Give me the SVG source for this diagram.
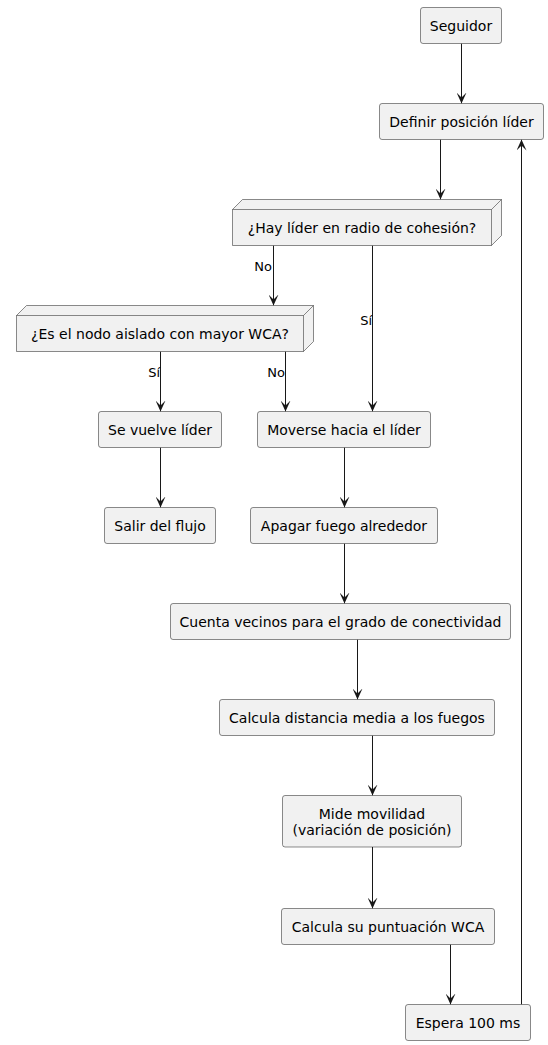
<svg xmlns="http://www.w3.org/2000/svg" width="548" height="1045" viewBox="0 0 548 1045">
<style>
.box{fill:#F1F1F1;stroke:#181818;stroke-width:0.5}
.t{font-family:"DejaVu Sans",Verdana,sans-serif;font-size:14px;fill:#000;text-anchor:middle}
.lbl{font-family:"DejaVu Sans",Verdana,sans-serif;font-size:13px;fill:#000;text-anchor:end}
.ln{stroke:#181818;stroke-width:1;fill:none}
</style>
<defs>
<marker id="ah" viewBox="0 0 11 10" refX="11" refY="5" markerWidth="11" markerHeight="10" markerUnits="userSpaceOnUse" orient="auto">
<path d="M0,0 L11,5 L0,10 L5,5 Z" fill="#181818"/>
</marker>
</defs>
<rect width="548" height="1045" fill="#FFFFFF"/>
<g id="connectors">
<line class="ln" x1="461.5" y1="43.5" x2="461.5" y2="103.5" marker-end="url(#ah)"/>
<line class="ln" x1="440.5" y1="139.5" x2="440.5" y2="199.5" marker-end="url(#ah)"/>
<line class="ln" x1="273.5" y1="245.5" x2="273.5" y2="305.5" marker-end="url(#ah)"/>
<text class="lbl" x="272" y="271">No</text>
<line class="ln" x1="372.5" y1="245.5" x2="372.5" y2="411.5" marker-end="url(#ah)"/>
<text class="lbl" x="372" y="325">Sí</text>
<line class="ln" x1="160.5" y1="351.5" x2="160.5" y2="411.5" marker-end="url(#ah)"/>
<text class="lbl" x="160" y="377">Sí</text>
<line class="ln" x1="285.5" y1="351.5" x2="285.5" y2="411.5" marker-end="url(#ah)"/>
<text class="lbl" x="285" y="377">No</text>
<line class="ln" x1="160.5" y1="447.5" x2="160.5" y2="507.5" marker-end="url(#ah)"/>
<line class="ln" x1="344.5" y1="447.5" x2="344.5" y2="507.5" marker-end="url(#ah)"/>
<line class="ln" x1="344.5" y1="543.5" x2="344.5" y2="603.5" marker-end="url(#ah)"/>
<line class="ln" x1="357.5" y1="639.5" x2="357.5" y2="699.5" marker-end="url(#ah)"/>
<line class="ln" x1="372.5" y1="735.5" x2="372.5" y2="795.5" marker-end="url(#ah)"/>
<line class="ln" x1="372.5" y1="847" x2="372.5" y2="908.5" marker-end="url(#ah)"/>
<line class="ln" x1="450.5" y1="944.5" x2="450.5" y2="1004.5" marker-end="url(#ah)"/>
<line class="ln" x1="521.5" y1="1004.5" x2="521.5" y2="139.5" marker-end="url(#ah)"/>
</g>
<g id="seguidor"><rect class="box" x="420.5" y="7.5" width="81" height="36" rx="2.5"/><text class="t" x="461" y="30.5">Seguidor</text></g>
<g id="definir"><rect class="box" x="379.5" y="103.5" width="164" height="36" rx="2.5"/><text class="t" x="461.5" y="126.5">Definir posición líder</text></g>
<g id="hay-lider">
<polygon class="box" points="232.5,209.5 242.5,199.5 501.5,199.5 501.5,235.5 491.5,245.5 232.5,245.5"/>
<polyline class="box" points="232.5,209.5 491.5,209.5 501.5,199.5" style="fill:none"/>
<line class="box" x1="491.5" y1="209.5" x2="491.5" y2="245.5"/>
<text class="t" x="362" y="232.5">¿Hay líder en radio de cohesión?</text>
</g>
<g id="es-aislado">
<polygon class="box" points="16.5,315.5 26.5,305.5 313.5,305.5 313.5,341.5 303.5,351.5 16.5,351.5"/>
<polyline class="box" points="16.5,315.5 303.5,315.5 313.5,305.5" style="fill:none"/>
<line class="box" x1="303.5" y1="315.5" x2="303.5" y2="351.5"/>
<text class="t" x="160" y="338.5">¿Es el nodo aislado con mayor WCA?</text>
</g>
<g id="se-vuelve"><rect class="box" x="98.5" y="411.5" width="123" height="36" rx="2.5"/><text class="t" x="160" y="434.5">Se vuelve líder</text></g>
<g id="salir"><rect class="box" x="104.5" y="507.5" width="111" height="36" rx="2.5"/><text class="t" x="160" y="530.5">Salir del flujo</text></g>
<g id="moverse"><rect class="box" x="257.5" y="411.5" width="173" height="36" rx="2.5"/><text class="t" x="344" y="434.5">Moverse hacia el líder</text></g>
<g id="apagar"><rect class="box" x="250.5" y="507.5" width="187" height="36" rx="2.5"/><text class="t" x="344" y="530.5">Apagar fuego alrededor</text></g>
<g id="cuenta"><rect class="box" x="170.5" y="603.5" width="340" height="36" rx="2.5"/><text class="t" x="340.5" y="626.5">Cuenta vecinos para el grado de conectividad</text></g>
<g id="distancia"><rect class="box" x="219.5" y="699.5" width="275" height="36" rx="2.5"/><text class="t" x="357" y="722.5">Calcula distancia media a los fuegos</text></g>
<g id="mide"><rect class="box" x="282.5" y="795.5" width="179" height="51.5" rx="2.5"/><text class="t" x="372" y="818.5">Mide movilidad</text><text class="t" x="372" y="834.5">(variación de posición)</text></g>
<g id="puntuacion"><rect class="box" x="281.5" y="908.5" width="213" height="36" rx="2.5"/><text class="t" x="388" y="931.5">Calcula su puntuación WCA</text></g>
<g id="espera"><rect class="box" x="405.5" y="1004.5" width="125" height="36" rx="2.5"/><text class="t" x="468" y="1027.5">Espera 100 ms</text></g>
</svg>
